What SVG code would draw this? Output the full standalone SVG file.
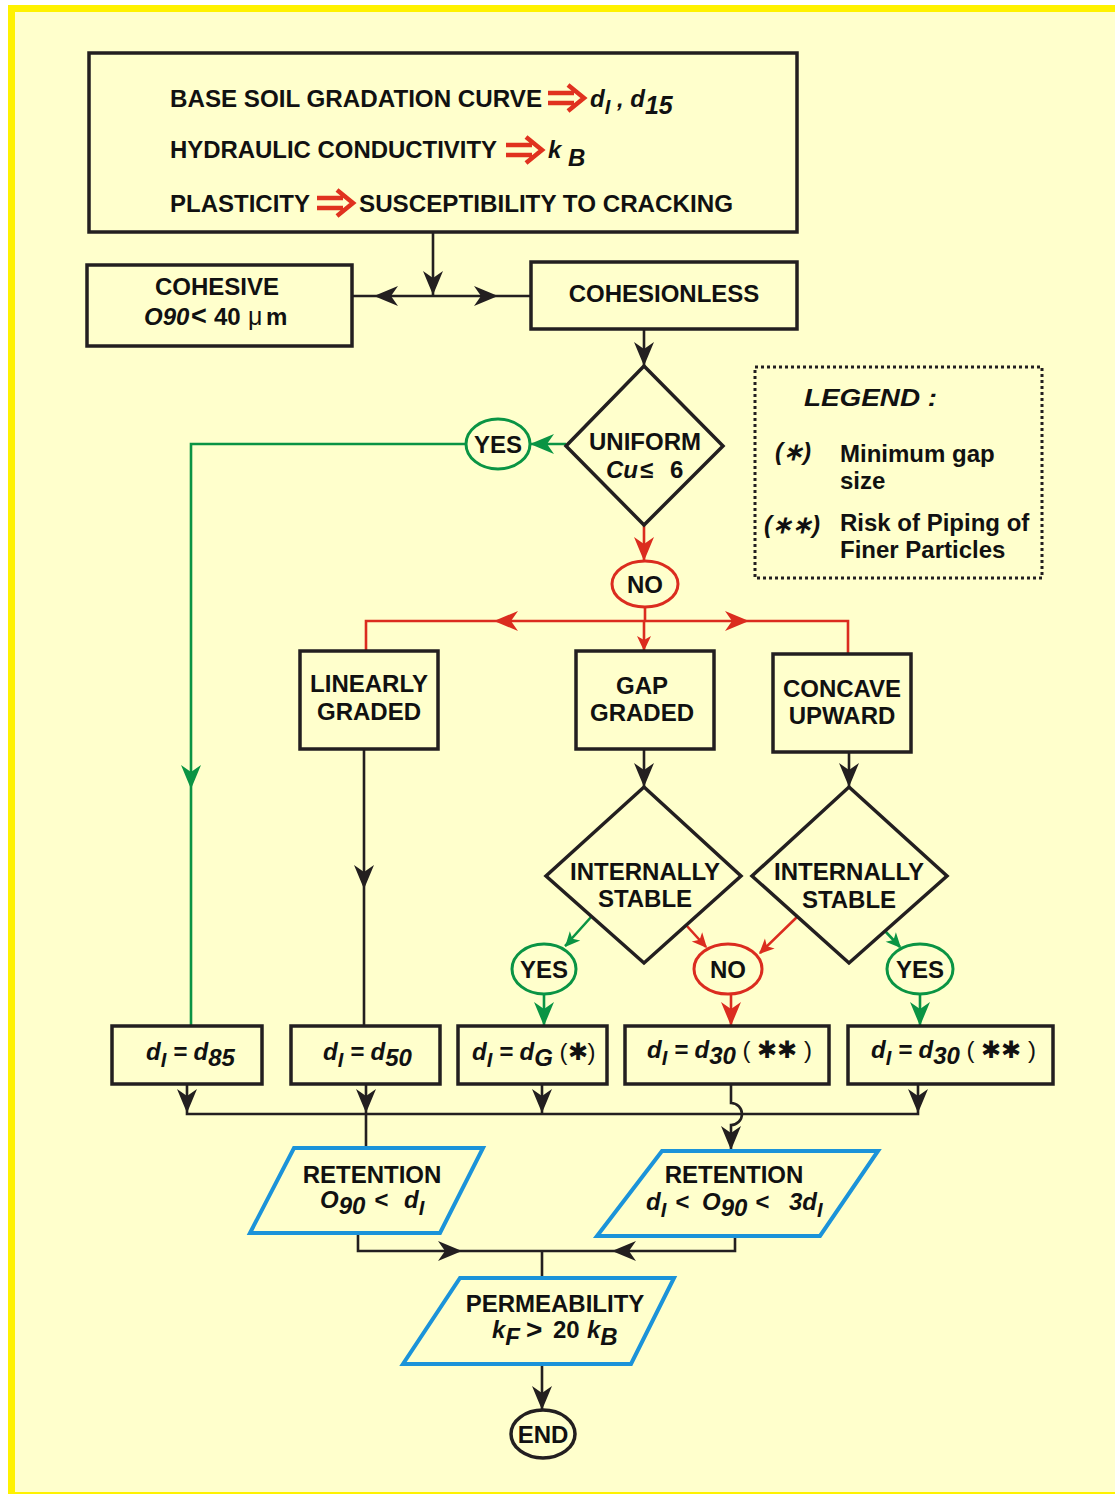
<svg xmlns="http://www.w3.org/2000/svg" xmlns:xlink="http://www.w3.org/1999/xlink" width="1115" height="1494" viewBox="0 0 1115 1494">
<style>
.bg{fill:#ffffcc}
.nd{fill:none;stroke:#231f20;stroke-width:3.5}
.pg{fill:none;stroke:#1b93d9;stroke-width:4}
.t{font-family:"Liberation Sans",Arial,sans-serif;font-weight:bold;font-size:24px;fill:#111}
.it{font-style:italic}
.c{text-anchor:middle}
.lk{fill:none;stroke:#231f20;stroke-width:2.6}
.lg{fill:none;stroke:#0a9444;stroke-width:2.6}
.lr{fill:none;stroke:#db2c1f;stroke-width:2.6}
.hk{fill:#231f20}
.hg{fill:#0a9444}
.hr{fill:#db2c1f}
.eg{fill:none;stroke:#0a9444;stroke-width:3}
.er{fill:none;stroke:#db2c1f;stroke-width:3}
.ek{fill:none;stroke:#231f20;stroke-width:3.5}
.dbl{fill:none;stroke:#e0321f;stroke-width:4.5}
</style>
<defs>
<path id="ah" d="M0,0 L-24,-10 L-17,0 L-24,10 Z"/>
<path id="as" d="M0,0 L-15,-7 L-11,0 L-15,7 Z"/>
<path id="dbl" d="M0,-5 H26 M0,5 H26 M20,-13 L36,0 L20,13"/>
</defs>
<rect x="0" y="0" width="1115" height="1494" fill="#ffffff"/>
<rect x="8" y="5" width="1107" height="1489" fill="#fff200"/>
<rect x="15" y="12" width="1100" height="1480" class="bg"/>

<g id="connectors">
<!-- black -->
<path class="lk" d="M433,232 V296 M353,296 H531 M644,329 V366 M364,749 V1026 M644,749 V787 M849,752 V787"/>
<path class="lk" d="M187,1084 V1114 H918 V1084 M366,1084 V1148 M542,1084 V1114"/>
<path class="lk" d="M731,1084 V1103 A11,11 0 0 1 731,1125 V1150"/>
<path class="lk" d="M358,1233 V1251 H735 V1236 M542,1251 V1278 M542,1364 V1410"/>
<use xlink:href="#ah" class="hk" transform="translate(433,295) rotate(90)"/>
<use xlink:href="#ah" class="hk" transform="translate(374,296) rotate(180)"/>
<use xlink:href="#ah" class="hk" transform="translate(498,296)"/>
<use xlink:href="#ah" class="hk" transform="translate(644,366) rotate(90)"/>
<use xlink:href="#ah" class="hk" transform="translate(364,889) rotate(90)"/>
<use xlink:href="#ah" class="hk" transform="translate(644,787) rotate(90)"/>
<use xlink:href="#ah" class="hk" transform="translate(849,787) rotate(90)"/>
<use xlink:href="#ah" class="hk" transform="translate(187,1113) rotate(90)"/>
<use xlink:href="#ah" class="hk" transform="translate(366,1113) rotate(90)"/>
<use xlink:href="#ah" class="hk" transform="translate(542,1113) rotate(90)"/>
<use xlink:href="#ah" class="hk" transform="translate(918,1113) rotate(90)"/>
<use xlink:href="#ah" class="hk" transform="translate(731,1150) rotate(90)"/>
<use xlink:href="#ah" class="hk" transform="translate(462,1251)"/>
<use xlink:href="#ah" class="hk" transform="translate(612,1251) rotate(180)"/>
<use xlink:href="#ah" class="hk" transform="translate(542,1410) rotate(90)"/>
<!-- green -->
<path class="lg" d="M566,444 H530 M466,444 H191 V1026 M592,916 L565,946 M885,931 L900,947 M544,994 V1026 M920,994 V1026"/>
<use xlink:href="#ah" class="hg" transform="translate(530,444) rotate(180)"/>
<use xlink:href="#ah" class="hg" transform="translate(191,789) rotate(90)"/>
<use xlink:href="#as" class="hg" transform="translate(565,947) rotate(132)"/>
<use xlink:href="#as" class="hg" transform="translate(901,948) rotate(47)"/>
<use xlink:href="#ah" class="hg" transform="translate(544,1026) rotate(90)"/>
<use xlink:href="#ah" class="hg" transform="translate(920,1026) rotate(90)"/>
<!-- red -->
<path class="lr" d="M644,525 V561 M645,607 V621 M366,651 V621 H848 V654 M644,621 V651 M686,925 L706,947 M797,917 L760,953 M731,994 V1026"/>
<use xlink:href="#ah" class="hr" transform="translate(644,561) rotate(90)"/>
<use xlink:href="#ah" class="hr" transform="translate(494,621) rotate(180)"/>
<use xlink:href="#ah" class="hr" transform="translate(749,621)"/>
<use xlink:href="#as" class="hr" transform="translate(644,651) rotate(90)"/>
<use xlink:href="#as" class="hr" transform="translate(707,948) rotate(48)"/>
<use xlink:href="#as" class="hr" transform="translate(759,954) rotate(136)"/>
<use xlink:href="#ah" class="hr" transform="translate(731,1026) rotate(90)"/>
</g>

<g id="top">
<rect x="89" y="53" width="708" height="179" class="nd"/>
<text class="t" font-size="25" x="170" y="107" textLength="372" lengthAdjust="spacingAndGlyphs">BASE SOIL GRADATION CURVE</text>
<use xlink:href="#dbl" class="dbl" transform="translate(548,98)"/>
<text class="t it" font-size="25" x="590" y="107">d<tspan dy="7" font-size="20">I</tspan><tspan dy="-7"> , d</tspan><tspan dy="7" font-size="25">15</tspan></text>
<text class="t" font-size="25" x="170" y="158" textLength="327" lengthAdjust="spacingAndGlyphs">HYDRAULIC CONDUCTIVITY</text>
<use xlink:href="#dbl" class="dbl" transform="translate(506,150)"/>
<text class="t it" font-size="25" x="548" y="158">k <tspan dy="8" font-size="24">B</tspan></text>
<text class="t" font-size="25" x="170" y="212" textLength="140" lengthAdjust="spacingAndGlyphs">PLASTICITY</text>
<use xlink:href="#dbl" class="dbl" transform="translate(317,203)"/>
<text class="t" font-size="25" x="359" y="212" textLength="374" lengthAdjust="spacingAndGlyphs">SUSCEPTIBILITY TO CRACKING</text>
</g>

<g id="cohesive">
<rect x="87" y="265" width="265" height="81" class="nd"/>
<text class="t c" x="217" y="295">COHESIVE</text>
<text class="t" x="144" y="325"><tspan class="it">O90</tspan><tspan x="191" font-size="27">&lt;</tspan><tspan x="214">40</tspan><tspan x="248" font-weight="normal" font-size="25">μ</tspan><tspan x="266">m</tspan></text>
</g>

<g id="cohesionless">
<rect x="531" y="262" width="266" height="67" class="nd"/>
<text class="t c" x="664" y="302">COHESIONLESS</text>
</g>

<g id="uniform">
<path d="M644,366 L723,446 L644,525 L566,446 Z" class="nd"/>
<text class="t c" x="645" y="450">UNIFORM</text>
<text class="t" x="606" y="478"><tspan class="it">Cu</tspan><tspan x="640">≤</tspan><tspan x="670">6</tspan></text>
</g>

<g id="legend">
<rect x="755" y="367" width="287" height="211" fill="none" stroke="#231f20" stroke-width="3" stroke-dasharray="3 3"/>
<text class="t it" font-size="30" x="804" y="406" textLength="133" lengthAdjust="spacingAndGlyphs">LEGEND :</text>
<text class="t it" font-size="28" font-weight="normal" x="775" y="460">(∗)</text>
<text class="t" font-size="25" x="840" y="462">Minimum gap</text>
<text class="t" font-size="25" x="840" y="489">size</text>
<text class="t it" font-size="28" font-weight="normal" x="764" y="533">(∗∗)</text>
<text class="t" font-size="25" x="840" y="531">Risk of Piping of</text>
<text class="t" font-size="25" x="840" y="558">Finer Particles</text>
</g>

<g id="yes1">
<ellipse cx="498" cy="444" rx="32" ry="25" class="eg"/>
<text class="t c" x="498" y="453">YES</text>
</g>
<g id="no1">
<ellipse cx="645" cy="584" rx="33" ry="23" class="er"/>
<text class="t c" x="645" y="593">NO</text>
</g>

<g id="linearly">
<rect x="300" y="651" width="138" height="98" class="nd"/>
<text class="t c" x="369" y="692">LINEARLY</text>
<text class="t c" x="369" y="720">GRADED</text>
</g>
<g id="gap">
<rect x="576" y="651" width="138" height="98" class="nd"/>
<text class="t c" x="642" y="694">GAP</text>
<text class="t c" x="642" y="721">GRADED</text>
</g>
<g id="concave">
<rect x="773" y="654" width="138" height="98" class="nd"/>
<text class="t c" x="842" y="697">CONCAVE</text>
<text class="t c" x="842" y="724">UPWARD</text>
</g>

<g id="stable1">
<path d="M644,787 L741,876 L644,963 L546,876 Z" class="nd"/>
<text class="t c" x="645" y="880">INTERNALLY</text>
<text class="t c" x="645" y="907">STABLE</text>
</g>
<g id="stable2">
<path d="M849,787 L947,876 L849,963 L752,876 Z" class="nd"/>
<text class="t c" x="849" y="880">INTERNALLY</text>
<text class="t c" x="849" y="908">STABLE</text>
</g>

<g id="yes2">
<ellipse cx="544" cy="969" rx="32" ry="25" class="eg"/>
<text class="t c" x="544" y="978">YES</text>
</g>
<g id="no2">
<ellipse cx="728" cy="969" rx="34" ry="25" class="er"/>
<text class="t c" x="728" y="978">NO</text>
</g>
<g id="yes3">
<ellipse cx="920" cy="969" rx="33" ry="25" class="eg"/>
<text class="t c" x="920" y="978">YES</text>
</g>

<g id="d85">
<rect x="112" y="1026" width="150" height="58" class="nd"/>
<text class="t it" font-size="25" x="146" y="1060">d<tspan dy="7" font-size="20">I</tspan><tspan dy="-7"> = d</tspan><tspan dy="6">85</tspan></text>
</g>
<g id="d50">
<rect x="291" y="1026" width="149" height="58" class="nd"/>
<text class="t it" font-size="25" x="323" y="1060">d<tspan dy="7" font-size="20">I</tspan><tspan dy="-7"> = d</tspan><tspan dy="6">50</tspan></text>
</g>
<g id="dg">
<rect x="458" y="1026" width="149" height="58" class="nd"/>
<text class="t it" font-size="25" x="472" y="1060">d<tspan dy="7" font-size="20">I</tspan><tspan dy="-7"> = d</tspan><tspan dy="6">G</tspan><tspan dy="-6" font-style="normal" font-weight="normal"> (✱)</tspan></text>
</g>
<g id="d30a">
<rect x="625" y="1026" width="204" height="58" class="nd"/>
<text class="t it" font-size="25" x="647" y="1058">d<tspan dy="7" font-size="20">I</tspan><tspan dy="-7"> = d</tspan><tspan dy="6">30</tspan><tspan dy="-6" font-style="normal" font-weight="normal"> ( ✱✱ )</tspan></text>
</g>
<g id="d30b">
<rect x="848" y="1026" width="205" height="58" class="nd"/>
<text class="t it" font-size="25" x="871" y="1058">d<tspan dy="7" font-size="20">I</tspan><tspan dy="-7"> = d</tspan><tspan dy="6">30</tspan><tspan dy="-6" font-style="normal" font-weight="normal"> ( ✱✱ )</tspan></text>
</g>

<g id="ret1">
<path d="M294,1148 H483 L440,1233 H250 Z" class="pg"/>
<text class="t c" x="372" y="1183">RETENTION</text>
<text class="t it" font-size="25" x="320" y="1208">O<tspan dy="6">90</tspan><tspan x="374" dy="-6">&lt;</tspan><tspan x="404">d</tspan><tspan dy="7" font-size="20">I</tspan></text>
</g>
<g id="ret2">
<path d="M662,1151 H878 L820,1236 H597 Z" class="pg"/>
<text class="t c" x="734" y="1183">RETENTION</text>
<text class="t it" font-size="25" x="646" y="1210">d<tspan dy="7" font-size="20">I</tspan><tspan x="675" dy="-7">&lt;</tspan><tspan x="702">O</tspan><tspan dy="6">90</tspan><tspan x="755" dy="-6">&lt;</tspan><tspan x="789">3d</tspan><tspan dy="7" font-size="20">I</tspan></text>
</g>

<g id="perm">
<path d="M460,1278 H674 L631,1364 H403 Z" class="pg"/>
<text class="t c" x="555" y="1312">PERMEABILITY</text>
<text class="t it" font-size="25" x="492" y="1338">k<tspan dy="7">F</tspan><tspan x="526" dy="-6" font-style="normal" font-size="28">&gt;</tspan><tspan x="553" dy="-1" font-style="normal">20</tspan><tspan x="587">k</tspan><tspan dy="7">B</tspan></text>
</g>

<g id="end">
<ellipse cx="543" cy="1434" rx="32" ry="24" class="ek"/>
<text class="t c" x="543" y="1443">END</text>
</g>
</svg>
